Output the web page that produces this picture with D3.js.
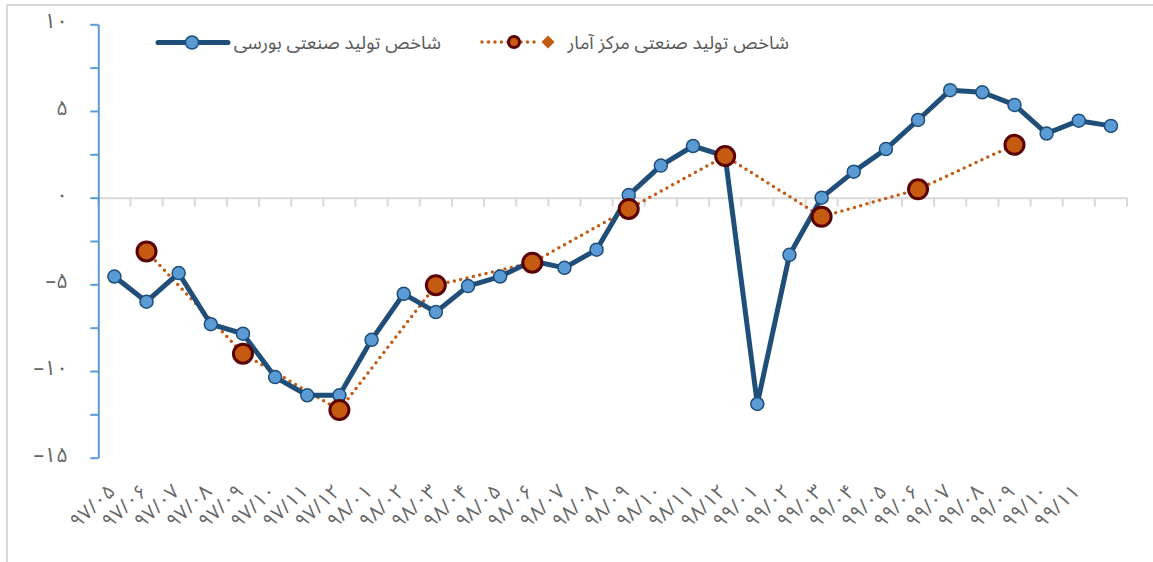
<!DOCTYPE html>
<html>
<head>
<meta charset="utf-8">
<script src="https://cdn.jsdelivr.net/npm/d3@7"></script>
<style>
  body { margin: 0; background: #fff; }
  svg { display: block; font-family: "Noto Sans Arabic", "DejaVu Sans", sans-serif; }
</style>
</head>
<body>
<div class="chart-container"></div>
<script>
const totalWidth = 1153;
const totalHeight = 562;

// month labels on the x axis (last month has no label in the source)
const months = [
  '۹۷/۰۵','۹۷/۰۶','۹۷/۰۷','۹۷/۰۸','۹۷/۰۹','۹۷/۱۰','۹۷/۱۱','۹۷/۱۲',
  '۹۸/۰۱','۹۸/۰۲','۹۸/۰۳','۹۸/۰۴','۹۸/۰۵','۹۸/۰۶','۹۸/۰۷','۹۸/۰۸',
  '۹۸/۰۹','۹۸/۱۰','۹۸/۱۱','۹۸/۱۲','۹۹/۰۱','۹۹/۰۲','۹۹/۰۳','۹۹/۰۴',
  '۹۹/۰۵','۹۹/۰۶','۹۹/۰۷','۹۹/۰۸','۹۹/۰۹','۹۹/۱۰','۹۹/۱۱',''
];

// شاخص تولید صنعتی بورسی
const bourseValues = [
  -4.55, -6.0, -4.35, -7.3, -7.85, -10.35, -11.4, -11.4,
  -8.2, -5.55, -6.6, -5.1, -4.55, -3.65, -4.05, -3.0,
  0.15, 1.85, 2.98, 2.4, -11.9, -3.3, 0.0, 1.5,
  2.8, 4.48, 6.2, 6.08, 5.35, 3.7, 4.44, 4.14
];

// شاخص تولید صنعتی مرکز آمار (quarterly only)
const statsValues = [
  null, -3.1, null, null, -9.0, null, null, -12.25,
  null, null, -5.05, null, null, -3.75, null, null,
  -0.65, null, null, 2.4, null, null, -1.1, null,
  null, 0.48, null, null, 3.05, null, null, null
];

const yTicks = [-15, -10, -5, 0, 5, 10];
const faDigits = n => String(Math.abs(n)).replace(/\d/g, c => '۰۱۲۳۴۵۶۷۸۹'[c]);
const yLabel = n => (n < 0 ? '–' : '') + faDigits(n);

const seriesNames = ['شاخص تولید صنعتی بورسی', 'شاخص تولید صنعتی مرکز آمار'];

const svg = d3.select('.chart-container')
  .append('svg')
  .attr('width', totalWidth)
  .attr('height', totalHeight);

// outer chart frame
svg.append('rect')
  .attr('x', 7).attr('y', 5)
  .attr('width', totalWidth).attr('height', totalHeight)
  .attr('fill', 'none')
  .attr('stroke', '#d9d9d9')
  .attr('stroke-width', 2);

const plotLeft = 98.3, plotRight = 1127;

const x = d3.scaleBand()
  .domain(d3.range(months.length))
  .range([plotLeft, plotRight]);

const y = d3.scaleLinear()
  .domain([-15, 10])
  .range([457.7, 24.3]);

const cx = i => x(i) + x.bandwidth() / 2;

// horizontal category axis at zero
const xAxis = svg.append('g')
  .attr('transform', `translate(0,${y(0)})`)
  .call(d3.axisBottom(x)
    .tickSizeOuter(0)
    .tickSize(0)
    .tickFormat(''));
xAxis.select('.domain').attr('stroke', '#d9d9d9').attr('stroke-width', 2);
xAxis.selectAll('.tick').remove();
xAxis.selectAll('line.bound')
  .data(d3.range(months.length + 1))
  .enter()
  .append('line')
  .attr('class', 'bound')
  .attr('x1', i => plotLeft + i * x.step())
  .attr('x2', i => plotLeft + i * x.step())
  .attr('y1', 0).attr('y2', 9)
  .attr('stroke', '#d9d9d9')
  .attr('stroke-width', 2);

// rotated month labels at the bottom
svg.append('g')
  .selectAll('text')
  .data(months)
  .enter()
  .append('text')
  .attr('transform', (d, i) => `translate(${cx(i) + 2},${493}) rotate(-43)`)
  .attr('text-anchor', 'end')
  .attr('direction', 'ltr')
  .attr('font-size', 20)
  .attr('fill', '#666')
  .text(d => d);

// vertical axis
const yAxis = svg.append('g')
  .attr('transform', `translate(${plotLeft},0)`)
  .call(d3.axisLeft(y)
    .tickValues(d3.range(-15, 10.1, 2.5))
    .tickSize(8)
    .tickSizeOuter(0)
    .tickFormat(''));
yAxis.select('.domain').attr('stroke', '#5b9bd5').attr('stroke-width', 2);
yAxis.selectAll('.tick line').attr('stroke', '#5b9bd5').attr('stroke-width', 2);

svg.append('g')
  .selectAll('text')
  .data(yTicks)
  .enter()
  .append('text')
  .attr('x', 68)
  .attr('y', d => y(d) + 4)
  .attr('text-anchor', 'end')
  .attr('direction', 'ltr')
  .attr('font-size', 21)
  .attr('fill', '#666')
  .text(yLabel);

// stats series: dotted line connecting quarterly points
const statsPts = statsValues.map((v, i) => ({i, v})).filter(d => d.v !== null);
const bourPts = bourseValues.map((v, i) => ({i, v}));

const line = d3.line().x(d => cx(d.i)).y(d => y(d.v));

svg.append('path')
  .datum(statsPts)
  .attr('d', line)
  .attr('fill', 'none')
  .attr('stroke', '#c55a11')
  .attr('stroke-width', 3.5)
  .attr('stroke-linecap', 'round')
  .attr('stroke-dasharray', '0 6.5');

// bourse series
svg.append('path')
  .datum(bourPts)
  .attr('d', line)
  .attr('fill', 'none')
  .attr('stroke', '#1f4e79')
  .attr('stroke-width', 5)
  .attr('stroke-linejoin', 'round');

svg.append('g')
  .selectAll('circle')
  .data(bourPts)
  .enter()
  .append('circle')
  .attr('cx', d => cx(d.i))
  .attr('cy', d => y(d.v))
  .attr('r', 6.5)
  .attr('fill', '#5b9bd5')
  .attr('stroke', '#1f4e79')
  .attr('stroke-width', 1.5);

svg.append('g')
  .selectAll('circle')
  .data(statsPts)
  .enter()
  .append('circle')
  .attr('cx', d => cx(d.i))
  .attr('cy', d => y(d.v))
  .attr('r', 9.5)
  .attr('fill', '#c55a11')
  .attr('stroke', '#5a0000')
  .attr('stroke-width', 3);

// legend
const legend = svg.append('g');
legend.append('line')
  .attr('x1', 158).attr('x2', 228).attr('y1', 42.5).attr('y2', 42.5)
  .attr('stroke', '#1f4e79').attr('stroke-width', 5).attr('stroke-linecap', 'round');
legend.append('circle')
  .attr('cx', 192).attr('cy', 42.5).attr('r', 6.5)
  .attr('fill', '#5b9bd5').attr('stroke', '#1f4e79').attr('stroke-width', 1.5);
legend.append('text')
  .attr('x', 441).attr('y', 49)
  .attr('text-anchor', 'end')
  .attr('font-size', 18.5)
  .attr('fill', '#595959')
  .text(seriesNames[0]);

legend.append('line')
  .attr('x1', 482).attr('x2', 536).attr('y1', 42).attr('y2', 42)
  .attr('stroke', '#c55a11').attr('stroke-width', 3.5)
  .attr('stroke-linecap', 'round').attr('stroke-dasharray', '0 6.5');
legend.append('circle')
  .attr('cx', 514).attr('cy', 42).attr('r', 5.5)
  .attr('fill', '#c55a11').attr('stroke', '#5a0000').attr('stroke-width', 3);
legend.append('path')
  .attr('d', d3.symbol(d3.symbolDiamond2, 110)())
  .attr('transform', 'translate(548,42)')
  .attr('fill', '#c55a11');
legend.append('text')
  .attr('x', 789).attr('y', 49)
  .attr('text-anchor', 'end')
  .attr('font-size', 18.5)
  .attr('fill', '#595959')
  .text(seriesNames[1]);
</script>
</body>
</html>
